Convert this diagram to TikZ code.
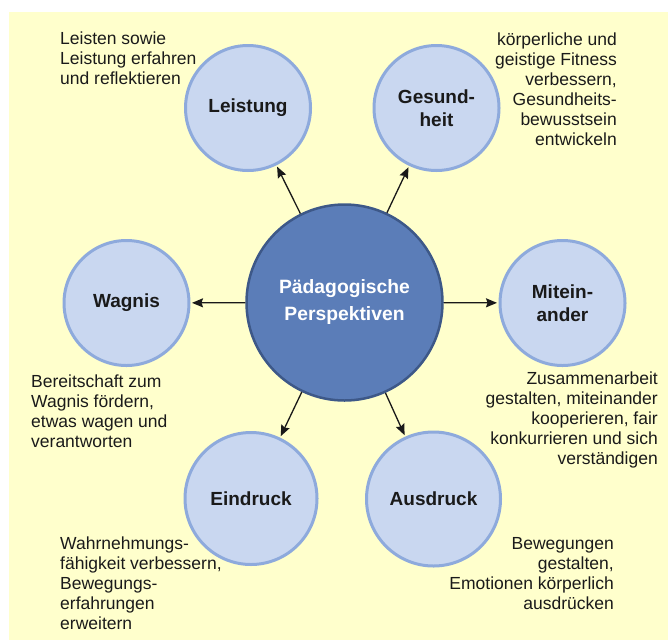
\documentclass[tikz,border=0pt]{standalone}
\usepackage{fontspec}
\setmainfont{Liberation Sans}
\usetikzlibrary{arrows.meta}
\definecolor{bgyellow}{HTML}{FFFFCC}
\definecolor{outerfill}{HTML}{C9D7F0}
\definecolor{outerline}{HTML}{8EAADC}
\definecolor{centerfill}{HTML}{5B7DB8}
\definecolor{centerline}{HTML}{3D5888}
\definecolor{txt}{HTML}{1A1A1A}
\tikzset{
  outercirc/.style={circle, draw=outerline, fill=outerfill, line width=3pt, inner sep=0pt,
    text=txt, font=\fontsize{19}{23}\selectfont\bfseries, align=center},
  centercirc/.style={circle, draw=centerline, fill=centerfill, line width=2.5pt, inner sep=0pt,
    minimum size=196pt, text=white, font=\fontsize{19.3}{27}\selectfont\bfseries, align=center},
  desc/.style={inner sep=0pt, text=txt, font=\fontsize{17.5}{20}\selectfont},
  arr/.style={-{Stealth[length=11pt,width=9pt,inset=1.5pt]}, line width=1.3pt, draw=black!90, shorten >=1.5pt}
}
\begin{document}
\begin{tikzpicture}[x=1pt,y=-1pt]
\useasboundingbox (0,0) rectangle (668,640);
\fill[bgyellow] (9,12) rectangle (668,640);
% center
\node[centercirc] (c) at (344.5,302.5) {Pädagogische\\Perspektiven};
% outer circles
\node[outercirc, minimum size=125pt] (lei) at (248,108) {Leistung};
\node[outercirc, minimum size=125pt] (ges) at (436.5,108) {Gesund-\\heit};
\node[outercirc, minimum size=125pt] (wag) at (126.5,303) {Wagnis};
\node[outercirc, minimum size=125pt] (mit) at (562.5,303) {Mitein-\\ander};
\node[outercirc, minimum size=132pt] (ein) at (251,498.5) {Eindruck};
\node[outercirc, minimum size=134pt] (aus) at (433.5,499) {Ausdruck};
% arrows
\draw[arr] (c) -- (lei);
\draw[arr] (c) -- (ges);
\draw[arr] (c) -- (wag);
\draw[arr] (c) -- (mit);
\draw[arr] (c) -- (ein);
\draw[arr] (c) -- (aus);
% descriptions
\node[desc, anchor=north west, align=left] (tlei) at (60,32) {Leisten sowie\\Leistung erfahren\\und reflektieren};
\node[desc, anchor=north east, align=right] (tges) at (617,33) {körperliche und\\geistige Fitness\\verbessern,\\Gesundheits-\\bewusstsein\\entwickeln};
\node[desc, anchor=north west, align=left] (twag) at (31,375) {Bereitschaft zum\\Wagnis fördern,\\etwas wagen und\\verantworten};
\node[desc, anchor=north east, align=right] (tmit) at (658,372) {Zusammenarbeit\\gestalten, miteinander\\kooperieren, fair\\konkurrieren und sich\\verständigen};
\node[desc, anchor=north west, align=left] (tein) at (60,537) {Wahrnehmungs-\\fähigkeit verbessern,\\Bewegungs-\\erfahrungen\\erweitern};
\node[desc, anchor=north east, align=right] (taus) at (614,537) {Bewegungen\\gestalten,\\Emotionen körperlich\\ausdrücken};
\end{tikzpicture}
\end{document}
